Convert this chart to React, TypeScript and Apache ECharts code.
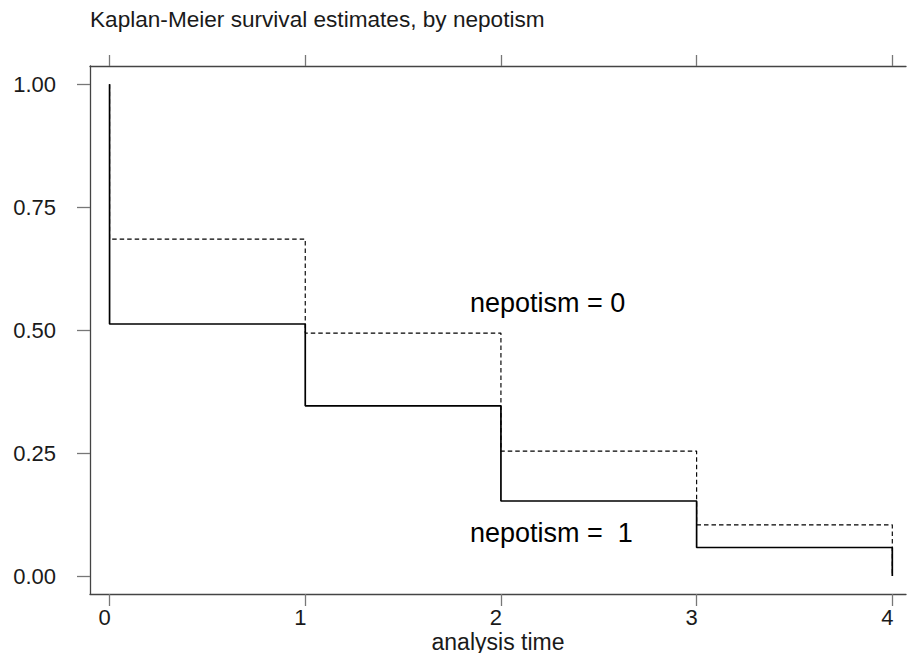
import React, { useEffect, useRef } from "react";
import * as echarts from "echarts";

// Kaplan-Meier step data (survival just after each failure time)
const times = [0, 1, 2, 3, 4];
const survNepotism0 = [0.685, 0.494, 0.254, 0.104, 0];
const survNepotism1 = [0.5125, 0.346, 0.1525, 0.058, 0];
const xTickValues = [0, 1, 2, 3, 4];
const yTickValues = [0, 0.25, 0.5, 0.75, 1];
const titleText = "Kaplan-Meier survival estimates, by nepotism";
const xAxisTitle = "analysis time";
const label0 = "nepotism = 0";
const label1 = "nepotism =  1";

function stepPoints(ts: number[], s: number[]): number[][] {
  const pts: number[][] = [];
  let prev = 1;
  pts.push([ts[0], prev]);
  for (let i = 0; i < ts.length; i++) {
    pts.push([ts[i], prev]);
    pts.push([ts[i], s[i]]);
    prev = s[i];
  }
  return pts;
}

const FONT = "'Liberation Sans', Arial, Helvetica, sans-serif";

export default function App() {
  const ref = useRef<HTMLDivElement>(null);
  useEffect(() => {
    if (!ref.current) return;
    const chart = echarts.init(ref.current, null, { renderer: "svg" });
    const axisLineStyle = { color: "#444", width: 1.3 };
    const tickStyle = { color: "#777", width: 1.3 };
    chart.setOption({
      animation: false,
      backgroundColor: "#fff",
      textStyle: { fontFamily: FONT },
      grid: {
        left: 90,
        top: 66,
        right: 2,
        bottom: 59,
        containLabel: false,
        outerBoundsMode: "none",
      },
      xAxis: [
        {
          type: "value",
          position: "bottom",
          min: -0.1,
          max: 4.07,
          name: xAxisTitle,
          nameLocation: "middle",
          nameGap: 36,
          nameMoveOverlap: false,
          nameTextStyle: { fontSize: 23, color: "#1a1a1a", fontFamily: FONT, lineHeight: 23 },
          axisLine: { show: true, onZero: false, lineStyle: axisLineStyle },
          axisTick: { show: true, length: 12, lineStyle: tickStyle, customValues: xTickValues },
          axisLabel: {
            show: true,
            customValues: xTickValues,
            fontSize: 22,
            lineHeight: 22,
            color: "#1a1a1a",
            fontFamily: FONT,
            margin: 12,
            padding: [0, 10, 0, 0],
            formatter: (v: number) => String(Math.round(v)),
          },
          splitLine: { show: false },
        },
        {
          type: "value",
          position: "top",
          min: -0.1,
          max: 4.07,
          axisLine: { show: true, onZero: false, lineStyle: axisLineStyle },
          axisTick: { show: true, length: 11, lineStyle: tickStyle, customValues: xTickValues },
          axisLabel: { show: false },
          splitLine: { show: false },
        },
      ],
      yAxis: {
        type: "value",
        min: -0.0366,
        max: 1.0372,
        axisLine: { show: true, onZero: false, lineStyle: axisLineStyle },
        axisTick: { show: true, length: 13, lineStyle: tickStyle, customValues: yTickValues },
        axisLabel: {
          show: true,
          customValues: yTickValues,
          fontSize: 22,
          color: "#1a1a1a",
          fontFamily: FONT,
          margin: 34,
          padding: [9, 0, 0, 0],
          formatter: (v: number) => v.toFixed(2),
        },
        splitLine: { show: false },
      },
      series: [
        {
          name: label0,
          type: "line",
          data: stepPoints(times, survNepotism0),
          showSymbol: false,
          symbol: "none",
          lineStyle: { color: "#000", width: 1.15, type: [4.5, 3] },
          z: 2,
        },
        {
          name: label1,
          type: "line",
          data: stepPoints(times, survNepotism1),
          showSymbol: false,
          symbol: "none",
          lineStyle: { color: "#000", width: 1.7, type: "solid" },
          z: 3,
        },
      ],
      graphic: [
        {
          type: "text",
          x: 90,
          y: 19,
          style: {
            text: titleText,
            font: `22.6px ${FONT}`,
            fill: "#1a1a1a",
            textAlign: "left",
            textVerticalAlign: "middle",
          },
        },
        {
          type: "text",
          x: 470,
          y: 303,
          style: {
            text: label0,
            font: `27px ${FONT}`,
            fill: "#000",
            textAlign: "left",
            textVerticalAlign: "middle",
          },
        },
        {
          type: "text",
          x: 470,
          y: 533,
          style: {
            text: label1,
            font: `27px ${FONT}`,
            fill: "#000",
            textAlign: "left",
            textVerticalAlign: "middle",
          },
        },
      ],
    });
    return () => chart.dispose();
  }, []);
  return (
    <div
      ref={ref}
      style={{ position: "fixed", left: 0, top: 0, width: 908, height: 653, background: "#fff" }}
    />
  );
}
